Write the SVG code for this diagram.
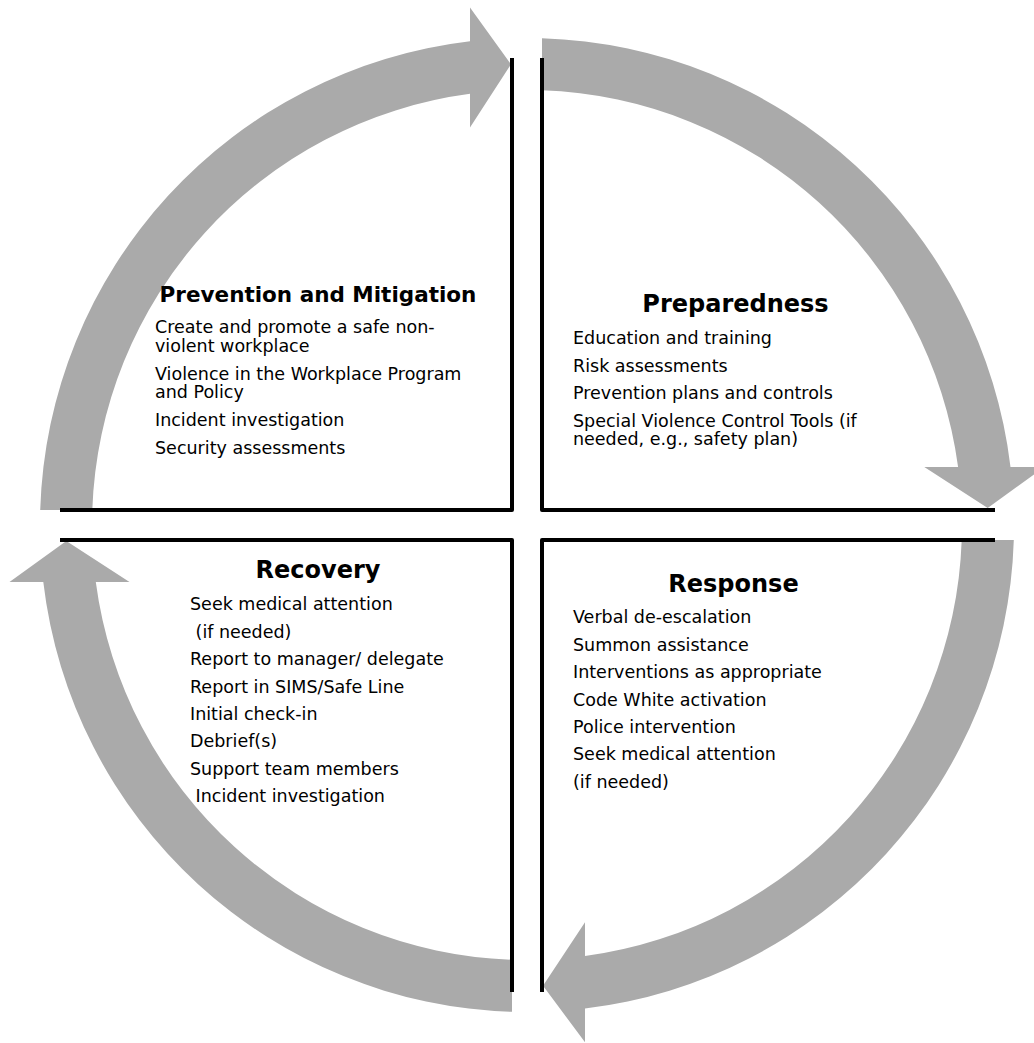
<svg xmlns="http://www.w3.org/2000/svg" width="1034" height="1043" viewBox="0 0 1034 1043">
  <style>
    .band { fill: #aaaaaa; stroke: none; }
    .box { fill: none; stroke: #000; stroke-width: 4; stroke-linejoin: round; stroke-linecap: butt; }
    .title { font-family: "DejaVu Sans", Verdana, sans-serif; font-weight: bold; fill: #000; text-anchor: middle; }
    .item { font-family: "DejaVu Sans", Verdana, sans-serif; font-size: 17.5px; fill: #000; white-space: pre; }
  </style>
  <rect width="1034" height="1043" fill="#ffffff"/>

  <!-- Circular cycle arrows: ring centred at (527,525), outer radius 487, inner 435 -->
  <g id="connectors">
    <path id="arrow-prevention-to-preparedness" class="band"
          d="M40.2,510 A487,487 0 0 1 470,41.3 L470,7.5 L511,64.3 L470,127.5 L470,93.8 A435,435 0 0 0 92.3,510 Z"/>
    <path id="arrow-preparedness-to-response" class="band"
          d="M542,38.2 A487,487 0 0 1 1010.5,467 L1044.3,467 L987.7,508 L924.3,467 L958.1,467 A435,435 0 0 0 542,90.3 Z"/>
    <path id="arrow-response-to-recovery" class="band"
          d="M1013.8,540 A487,487 0 0 1 585,1008.5 L585,1042.3 L543,985.7 L585,922.3 L585,956.1 A435,435 0 0 0 961.7,540 Z"/>
    <path id="arrow-recovery-to-prevention" class="band"
          d="M512,1011.8 A487,487 0 0 1 43.3,582 L9.5,582 L66.3,541 L129.5,582 L95.8,582 A435,435 0 0 0 512,959.7 Z"/>
  </g>

  <!-- Quadrant: Prevention and Mitigation -->
  <g id="prevention-mitigation">
    <path class="box" d="M60,510 H512 V58"/>
    <text class="title" x="318" y="302" font-size="21.5">Prevention and Mitigation</text>
    <text class="item" x="155" y="333">Create and promote a safe non-</text>
    <text class="item" x="155" y="351.5">violent workplace</text>
    <text class="item" x="155" y="379.5">Violence in the Workplace Program</text>
    <text class="item" x="155" y="398">and Policy</text>
    <text class="item" x="155" y="426">Incident investigation</text>
    <text class="item" x="155" y="453.5">Security assessments</text>
  </g>

  <!-- Quadrant: Preparedness -->
  <g id="preparedness">
    <path class="box" d="M542,58 V510 H995"/>
    <text class="title" x="735.5" y="312" font-size="24">Preparedness</text>
    <text class="item" x="573" y="344">Education and training</text>
    <text class="item" x="573" y="371.5">Risk assessments</text>
    <text class="item" x="573" y="399">Prevention plans and controls</text>
    <text class="item" x="573" y="426.5">Special Violence Control Tools (if</text>
    <text class="item" x="573" y="445">needed, e.g., safety plan)</text>
  </g>

  <!-- Quadrant: Response -->
  <g id="response">
    <path class="box" d="M995,540 H542 V992"/>
    <text class="title" x="733.5" y="592" font-size="24">Response</text>
    <text class="item" x="573" y="623">Verbal de-escalation</text>
    <text class="item" x="573" y="650.5">Summon assistance</text>
    <text class="item" x="573" y="678">Interventions as appropriate</text>
    <text class="item" x="573" y="705.5">Code White activation</text>
    <text class="item" x="573" y="733">Police intervention</text>
    <text class="item" x="573" y="760">Seek medical attention</text>
    <text class="item" x="573" y="787.5">(if needed)</text>
  </g>

  <!-- Quadrant: Recovery -->
  <g id="recovery">
    <path class="box" d="M60,540 H512 V992"/>
    <text class="title" x="318" y="578" font-size="24">Recovery</text>
    <text class="item" x="190" y="610">Seek medical attention</text>
    <text class="item" x="190" y="637.5"> (if needed)</text>
    <text class="item" x="190" y="665">Report to manager/ delegate</text>
    <text class="item" x="190" y="692.5">Report in SIMS/Safe Line</text>
    <text class="item" x="190" y="720">Initial check-in</text>
    <text class="item" x="190" y="747">Debrief(s)</text>
    <text class="item" x="190" y="774.5">Support team members</text>
    <text class="item" x="190" y="801.5"> Incident investigation</text>
  </g>
</svg>
